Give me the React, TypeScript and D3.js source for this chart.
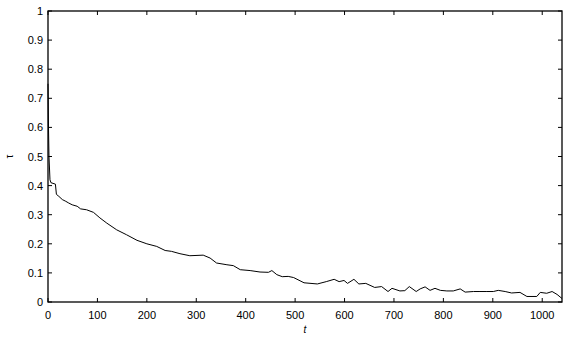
import * as d3 from 'd3'

const tValues = [
  0, 1, 2, 4, 6, 15, 17, 22, 29, 36, 42, 49, 59, 66, 78, 92, 105, 119, 139, 159,
  180, 200, 220, 237, 250, 267, 287, 314, 328, 341, 362, 375, 389, 409, 429,
  446, 453, 463, 474, 486, 497, 518, 545, 563, 579, 589, 599, 606, 619, 629,
  643, 661, 675, 688, 696, 712, 722, 731, 745, 753, 763, 773, 783, 794, 807,
  820, 834, 844, 861, 874, 888, 901, 911, 925, 938, 955, 969, 989, 996, 1009,
  1020, 1030, 1040,
]
const tauValues = [
  0.75, 0.6, 0.5, 0.42, 0.41, 0.405, 0.37, 0.363, 0.352, 0.346, 0.34, 0.334,
  0.329, 0.32, 0.317, 0.308, 0.289, 0.271, 0.248, 0.231, 0.212, 0.2, 0.191,
  0.177, 0.174, 0.166, 0.159, 0.161, 0.151, 0.134, 0.128, 0.125, 0.111, 0.108,
  0.103, 0.102, 0.108, 0.094, 0.087, 0.088, 0.084, 0.066, 0.062, 0.07, 0.078,
  0.07, 0.074, 0.064, 0.078, 0.062, 0.064, 0.05, 0.053, 0.036, 0.047, 0.038,
  0.039, 0.053, 0.036, 0.045, 0.052, 0.04, 0.047, 0.04, 0.038, 0.038, 0.045,
  0.034, 0.036, 0.036, 0.036, 0.036, 0.04, 0.036, 0.031, 0.033, 0.019, 0.019,
  0.033, 0.03, 0.036, 0.026, 0.012,
]
const xTicks = [0, 100, 200, 300, 400, 500, 600, 700, 800, 900, 1000]
const yTicks = [0, 0.1, 0.2, 0.3, 0.4, 0.5, 0.6, 0.7, 0.8, 0.9, 1]

const W = 564
const H = 337
const left = 48
const right = 562
const top = 11
const bottom = 302
const tick = 4
const font = 'Liberation Sans, Arial, Helvetica, sans-serif'

export default function App() {
  const x = d3.scaleLinear().domain([0, 1040]).range([left, right])
  const y = d3.scaleLinear().domain([0, 1]).range([bottom, top])

  const points = tValues.map((t, i) => [t, tauValues[i]] as [number, number])
  const line = d3
    .line<[number, number]>()
    .x(d => x(d[0]))
    .y(d => y(d[1]))

  return (
    <div style={{ position: 'fixed', left: 0, top: 0, background: '#fff' }}>
      <svg width={W} height={H} viewBox={`0 0 ${W} ${H}`} fontFamily={font}>
        <rect width={W} height={H} fill="#fff" />
        <path d={line(points) ?? ''} fill="none" stroke="#000" strokeWidth={1} />
        {/* box */}
        <rect
          x={left}
          y={top}
          width={right - left}
          height={bottom - top}
          fill="none"
          stroke="#000"
          strokeWidth={1.3}
        />
        {xTicks.map(v => (
          <g key={v}>
            <path d={`M ${x(v)} ${bottom} V ${bottom - tick}`} stroke="#000" />
            <path d={`M ${x(v)} ${top} V ${top + tick}`} stroke="#000" />
            <text x={x(v)} y={318.5} fontSize={11} textAnchor="middle" fill="#000">
              {v}
            </text>
          </g>
        ))}
        {yTicks.map(v => (
          <g key={v}>
            <path d={`M ${left} ${y(v)} H ${left + tick}`} stroke="#000" />
            <path d={`M ${right} ${y(v)} H ${right - tick}`} stroke="#000" />
            <text x={43} y={y(v) + 4} fontSize={11} textAnchor="end" fill="#000">
              {v}
            </text>
          </g>
        ))}
        <text
          x={305}
          y={333}
          fontSize={10}
          fontStyle="italic"
          textAnchor="middle"
          fill="#000"
        >
          t
        </text>
        <text
          transform={`translate(13, ${(top + bottom) / 2}) rotate(-90)`}
          fontSize={10}
          textAnchor="middle"
          fill="#000"
        >
          τ
        </text>
      </svg>
    </div>
  )
}
